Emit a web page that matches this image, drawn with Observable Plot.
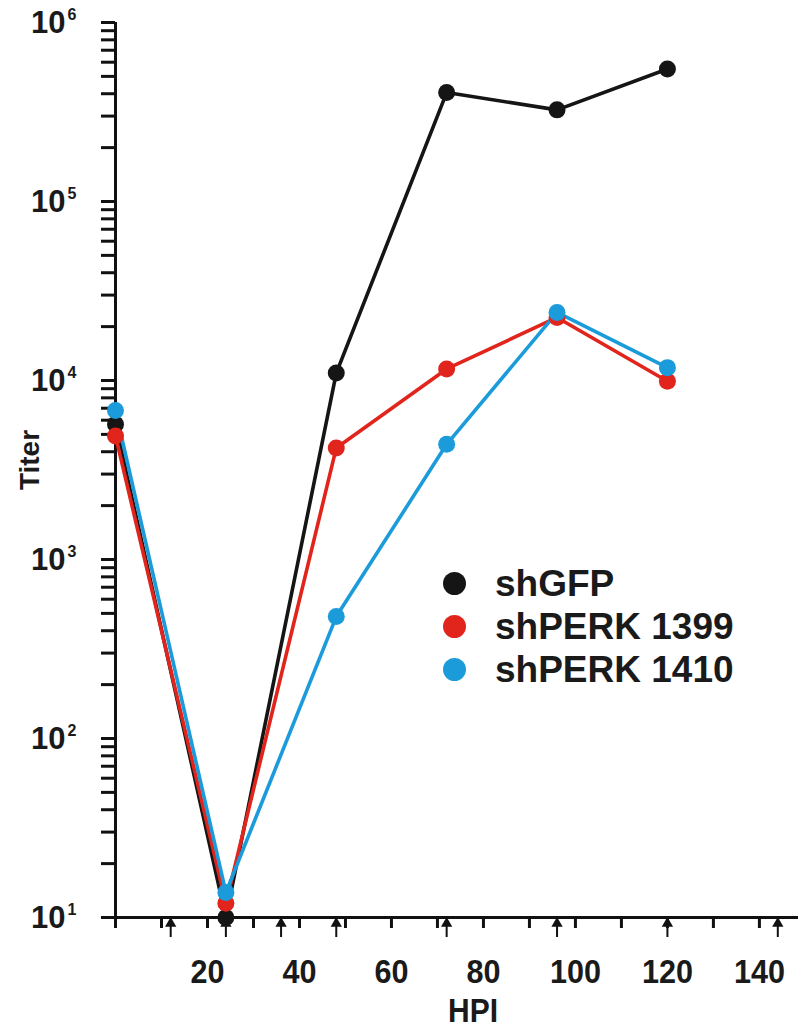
<!DOCTYPE html>
<html>
<head>
<meta charset="utf-8">
<script src="https://cdn.jsdelivr.net/npm/d3@7"></script>
<script src="https://cdn.jsdelivr.net/npm/@observablehq/plot@0.6"></script>
<style>
  html, body { margin: 0; padding: 0; background: #fff; }
  #wrap { position: relative; width: 798px; height: 1029px; }
  #legend { position: absolute; left: 443px; top: 562px; font-family: "Liberation Sans", Arial, sans-serif; font-weight: bold; font-size: 37px; color: #1a1a1a; }
  #legend .row { display: flex; align-items: center; height: 43px; }
  #legend .sw { width: 23px; height: 23px; border-radius: 50%; margin-right: 29px; }
</style>
</head>
<body>
<div id="wrap"><div id="legend"></div></div>
<script>
// ---- data ----
const hours = [0, 24, 48, 72, 96, 120];
const seriesNames = ["shGFP", "shPERK 1399", "shPERK 1410"];
const seriesColors = ["#151515", "#e1251c", "#1c9bdb"];
const shGFP = [5700, 10, 11000, 406000, 325000, 550000];
const shPERK1399 = [4900, 12, 4200, 11600, 22500, 9900];
const shPERK1410 = [6800, 13.8, 480, 4400, 24000, 11800];

const xTicks = [0, 10, 20, 30, 40, 50, 60, 70, 80, 90, 100, 110, 120, 130, 140];
const xTickLabels = [20, 40, 60, 80, 100, 120, 140];
const arrowHours = [12, 24, 36, 48, 72, 96, 120, 144];
const decades = [10, 100, 1000, 10000, 100000, 1000000];
const decadeExponents = ["1", "2", "3", "4", "5", "6"];
const minorMultipliers = [2, 3, 4, 5, 6, 7, 8, 9];

// ---- build tables ----
const allSeries = [shGFP, shPERK1399, shPERK1410];
const rows = [];
allSeries.forEach((vals, i) => vals.forEach((v, j) => rows.push({series: seriesNames[i], hpi: hours[j], titer: v})));
const yTicks = [];
decades.forEach(d => { yTicks.push(d); if (d < 1e6) minorMultipliers.forEach(m => yTicks.push(d * m)); });
const decadeRows = decades.map((d, i) => ({v: d, e: decadeExponents[i]}));

const pxPerDecade = 179;
const below = px => 10 * Math.pow(10, -px / pxPerDecade); // value px pixels under the x axis
const narrowFont = "Liberation Sans, Arial, sans-serif";

const plot = Plot.plot({
  width: 798,
  height: 1029,
  marginLeft: 115,
  marginRight: 0,
  marginTop: 22,
  marginBottom: 112,
  x: {type: "linear", domain: [0, 148.5], axis: null},
  y: {type: "log", domain: [10, 1e6], axis: null},
  color: {domain: seriesNames, range: seriesColors},
  style: {background: "white", overflow: "visible"},
  marks: [
    // y axis
    Plot.ruleX([0], {y1: 10, y2: 1e6, stroke: "#111", strokeWidth: 3}),
    Plot.ruleY(yTicks, {y: d => d, x1: -3.05, x2: 0, stroke: "#111", strokeWidth: 3}),
    Plot.text(decadeRows, {x: 0, y: "v", text: () => "10", dx: -50, dy: 1, textAnchor: "end",
      fontFamily: "Liberation Sans, Arial, sans-serif", fontWeight: "bold", fontSize: 31, fill: "#1a1a1a"}),
    Plot.text(decadeRows, {x: 0, y: "v", text: "e", dx: -48, dy: -8, textAnchor: "start",
      fontFamily: "Liberation Sans, Arial, sans-serif", fontWeight: "bold", fontSize: 16, fill: "#1a1a1a"}),
    // x axis
    Plot.ruleY([10], {x1: -3.05, x2: 148.5, stroke: "#111", strokeWidth: 3}),
    Plot.ruleX(xTicks, {x: d => d, y1: 10, y2: below(11), stroke: "#111", strokeWidth: 3}),
    Plot.ruleX(arrowHours, {x: d => d, y1: below(7), y2: below(20), stroke: "#111", strokeWidth: 2}),
    Plot.dot(arrowHours, {x: d => d, y: below(6), symbol: "triangle", r: 4.2, fill: "#111", stroke: "none"}),
    Plot.text(xTickLabels, {x: d => d, y: 10, dy: 55, text: d => String(d), lineAnchor: "middle",
      fontFamily: narrowFont, fontWeight: "bold", fontSize: 34, fill: "#1a1a1a"}),
    // axis titles
    Plot.text(["HPI"], {frameAnchor: "bottom", lineAnchor: "middle", textAnchor: "middle", dx: 16, dy: 94, text: d => d,
      fontFamily: narrowFont, fontWeight: "bold", fontSize: 33, fill: "#1a1a1a"}),
    Plot.text(["Titer"], {frameAnchor: "left", lineAnchor: "middle", textAnchor: "middle", dx: -85, dy: -10, rotate: -90, text: d => d,
      fontFamily: "Liberation Sans, Arial, sans-serif", fontWeight: "bold", fontSize: 28, fill: "#1a1a1a"}),
    // data
    Plot.line(rows, {x: "hpi", y: "titer", z: "series", stroke: "series", strokeWidth: 3.6}),
    Plot.dot(rows, {x: "hpi", y: "titer", fill: "series", r: 8.5, stroke: "none"})
  ]
});
document.getElementById("wrap").prepend(plot);
plot.style.position = "absolute";
plot.style.left = "0";
plot.style.top = "0";

// condense the x-axis labels and title (narrow bold look of the original)
plot.querySelectorAll('g[font-size="34"] text, g[font-size="33"] text').forEach(t => {
  const s = t.textContent;
  t.setAttribute("textLength", s === "HPI" ? 50 : s.length * 17);
  t.setAttribute("lengthAdjust", "spacingAndGlyphs");
});

const legend = document.getElementById("legend");
legend.style.zIndex = 2;
seriesNames.forEach((n, i) => {
  const r = document.createElement("div");
  r.className = "row";
  r.innerHTML = `<span class="sw" style="background:${seriesColors[i]}"></span><span>${n}</span>`;
  legend.appendChild(r);
});
</script>
</body>
</html>
